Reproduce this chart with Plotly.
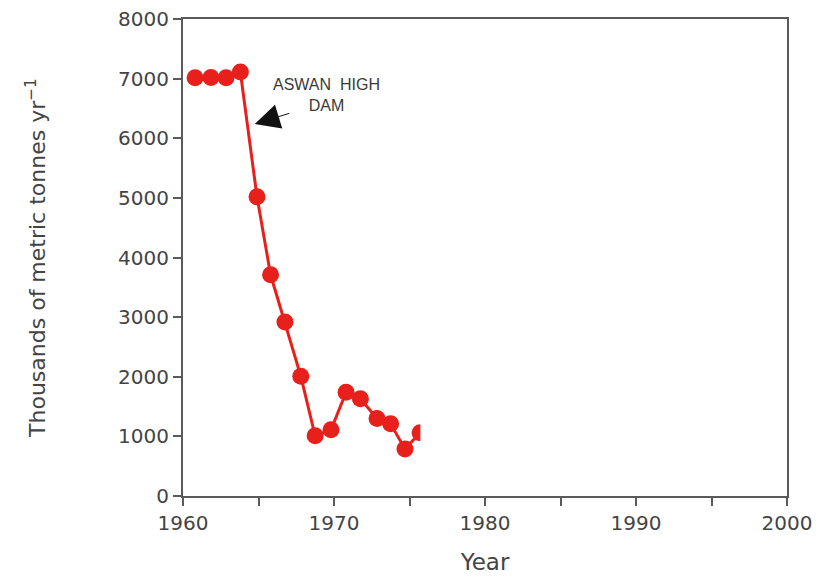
import plotly.graph_objects as go

years = [1960.8, 1961.85, 1962.85, 1963.8, 1964.9, 1965.8, 1966.75, 1967.8, 1968.75,
         1969.8, 1970.8, 1971.75, 1972.85, 1973.75, 1974.7, 1975.7]
sediment = [7015, 7020, 7015, 7110, 5020, 3710, 2920, 2010, 1010,
            1110, 1740, 1630, 1300, 1210, 790, 1060]

x_tickvals = [1960, 1965, 1970, 1975, 1980, 1985, 1990, 1995, 2000]
x_ticktext = ["1960", "", "1970", "", "1980", "", "1990", "", "2000"]
y_ticks = [0, 1000, 2000, 3000, 4000, 5000, 6000, 7000, 8000]

red = "#e8201c"
axis_col = "#5a5a5a"
text_col = "#444444"
font_fam = "DejaVu Sans, Arial, sans-serif"

fig = go.Figure()
fig.add_trace(go.Scatter(
    x=years, y=sediment, mode="lines+markers",
    line=dict(color=red, width=3),
    marker=dict(color=red, size=17, line=dict(width=0)),
    showlegend=False,
))

# Clipped last marker (as in the reference)
fig.add_shape(type="rect", xref="x", yref="y", x0=1975.72, x1=1978, y0=300, y1=1800,
              fillcolor="white", line=dict(width=0), layer="above")

fig.add_annotation(x=1969.5, y=6730, xref="x", yref="y",
                   text="ASWAN  HIGH<br>DAM", showarrow=False,
                   font=dict(family="Liberation Sans, Arial, sans-serif", size=16, color="#3a3a3a"),
                   align="center")
fig.add_annotation(x=1964.75, y=6240, xref="x", yref="y", text="",
                   showarrow=True, arrowhead=2, arrowsize=5, arrowwidth=1,
                   arrowcolor="#111111", ax=36, ay=-11, standoff=0)

# page body adds an 8px offset; sizes compensate for it
fig.update_layout(
    width=817, height=569,
    margin=dict(l=175, r=38, t=11, b=81),
    paper_bgcolor="white", plot_bgcolor="white",
    font=dict(family=font_fam, color=text_col),
)
fig.update_xaxes(
    range=[1960, 2000], tickvals=x_tickvals, ticktext=x_ticktext, automargin=False,
    ticklabeloverflow="allow",
    showgrid=False, zeroline=False, showline=True, linecolor=axis_col, linewidth=2,
    mirror=True, ticks="outside", ticklen=8, tickwidth=2, tickcolor=axis_col,
    tickfont=dict(size=20, color=text_col),
    title=dict(text="Year", font=dict(size=23, color=text_col), standoff=20),
)
fig.update_yaxes(
    range=[0, 8000], tickvals=y_ticks, ticktext=[str(v) for v in y_ticks], automargin=False,
    ticklabeloverflow="allow",
    showgrid=False, zeroline=False, showline=True, linecolor=axis_col, linewidth=2,
    mirror=True, ticks="outside", ticklen=8, tickwidth=2, tickcolor=axis_col,
    tickfont=dict(size=20, color=text_col),
    title=dict(text="Thousands of metric tonnes yr<sup>−1</sup>",
               font=dict(size=22, color=text_col), standoff=66),
)

fig.write_html("out.html")
